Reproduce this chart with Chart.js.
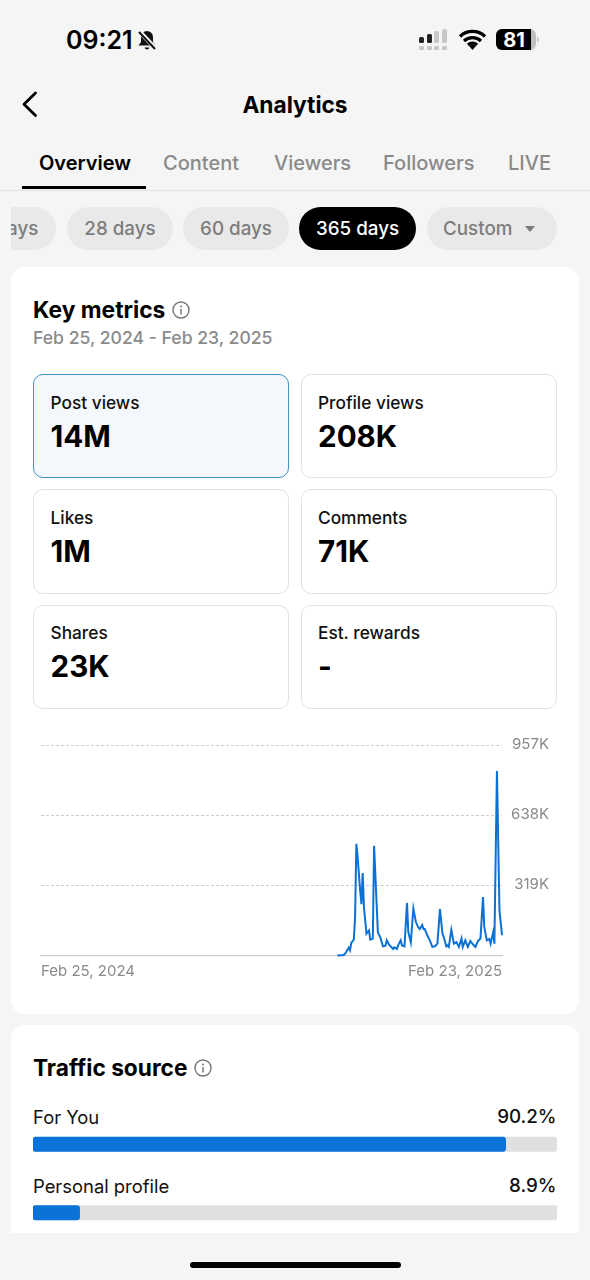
<!DOCTYPE html>
<html><head><meta charset="utf-8">
<script src="https://cdn.jsdelivr.net/npm/chart.js@4"></script>
<style>
html,body{margin:0;padding:0;background:#f5f5f5}
#app{position:relative;width:590px;height:1280px;overflow:hidden;background:#f5f5f5;font-family:Inter,"Noto Sans",sans-serif;-webkit-font-smoothing:antialiased}
.t{position:absolute;white-space:nowrap;line-height:30px;height:30px}
.b{position:absolute;box-sizing:border-box}
svg{position:absolute;overflow:visible}
</style></head><body>
<div id="app">
  <div class="b" style="left:11px;top:267px;width:568px;height:747px;background:#fff;border-radius:14px"></div>
  <div class="b" style="left:11px;top:1025px;width:568px;height:208px;background:#fff;border-radius:14px 14px 0 0"></div>

  <div class="t" style="left:66px;top:25px;font-size:25px;font-weight:600;color:#000">09:21</div>
  <svg style="left:135px;top:28px" width="24" height="24" viewBox="0 0 24 24"><path d="M12 3a6 6 0 0 0-6 6v5l-2.5 3.5h17L18 14V9a6 6 0 0 0-6-6zM9.5 19.5a2.6 2.6 0 0 0 5 0z" fill="#111"/><path d="M4 3l17 18" stroke="#f5f5f5" stroke-width="4.5"/><path d="M4 4l16 17" stroke="#111" stroke-width="2"/></svg>
  <svg style="left:418px;top:28px" width="32" height="24" viewBox="0 0 32 24">
    <rect x="1" y="9" width="5" height="6" rx="1.5" fill="#222"/><rect x="9" y="6" width="5" height="9" rx="1.5" fill="#222"/><rect x="16" y="3" width="5" height="12" rx="1.5" fill="#c8c8c8"/><rect x="24" y="1" width="5" height="14" rx="1.5" fill="#c8c8c8"/>
    <rect x="1" y="18" width="5" height="4" rx="1" fill="#c8c8c8"/><rect x="9" y="18" width="5" height="4" rx="1" fill="#c8c8c8"/><rect x="16" y="18" width="5" height="4" rx="1" fill="#c8c8c8"/><rect x="24" y="18" width="5" height="4" rx="1" fill="#c8c8c8"/></svg>
  <svg style="left:459px;top:29px" width="27" height="21" viewBox="0 0 27 21"><path d="M1 7.5a18 18 0 0 1 25 0M5 12a12.5 12.5 0 0 1 17 0M9 16a6.5 6.5 0 0 1 9 0" fill="none" stroke="#000" stroke-width="3.2"/><path d="M13.5 21l-3.4-4a5 5 0 0 1 6.8 0z" fill="#000"/></svg>
  <svg style="left:495px;top:29px" width="44" height="22" viewBox="0 0 44 22"><rect x="1" y="0" width="40" height="21" rx="6" fill="#c0c0c0"/><path d="M7 0h29v21H7a6 6 0 0 1-6-6V6a6 6 0 0 1 6-6z" fill="#000"/><path d="M42 7.5a3.5 3.5 0 0 1 0 6z" fill="#c0c0c0"/></svg>
  <div class="t" style="left:496px;top:25px;width:36px;text-align:center;font-size:20px;font-weight:700;color:#fff">81</div>

  <svg style="left:20px;top:90px" width="20" height="28" viewBox="0 0 20 28"><path d="M15.5 3L4 14.2 15.5 25.5" fill="none" stroke="#000" stroke-width="2.8" stroke-linecap="round" stroke-linejoin="round"/></svg>
  <div class="t" style="left:0;width:590px;text-align:center;top:89.5px;font-size:22.7px;font-weight:700;color:#000">Analytics</div>

  <div id="tabs"></div>
  <div class="b" style="left:22px;top:186px;width:124px;height:3px;background:#000"></div>
  <div class="b" style="left:0;top:190px;width:590px;height:1px;background:#e2e2e2"></div>

  <div style="position:absolute;left:11px;top:207px;width:546px;height:43px;overflow:hidden">
    <div id="pills"></div>
  </div>

  <div class="t" style="left:33px;top:295px;font-size:22.8px;font-weight:700;color:#000">Key metrics</div>
  <svg style="left:172px;top:301px" width="18" height="18" viewBox="0 0 18 18"><circle cx="9" cy="9" r="8" fill="none" stroke="#777" stroke-width="1.4"/><circle cx="9" cy="5.4" r="1" fill="#777"/><path d="M9 8v5.4" stroke="#777" stroke-width="1.5"/></svg>
  <div class="t" style="left:33px;top:323px;font-size:17.6px;font-weight:500;color:#8a8a8a">Feb 25, 2024 - Feb 23, 2025</div>

  <div id="kpis"></div>

  <div style="position:absolute;left:0;top:730px;width:590px;height:260px"><canvas id="trend"></canvas></div>

  <div class="t" style="left:33px;top:1053px;font-size:22.7px;font-weight:700;color:#000">Traffic source</div>
  <svg style="left:194px;top:1059px" width="18" height="18" viewBox="0 0 18 18"><circle cx="9" cy="9" r="8" fill="none" stroke="#777" stroke-width="1.4"/><circle cx="9" cy="5.4" r="1" fill="#777"/><path d="M9 8v5.4" stroke="#777" stroke-width="1.5"/></svg>
  <div id="traffic"></div>
  <div style="position:absolute;left:33px;top:1110px;width:524px;height:137px;clip-path:inset(0 0 14px 0)"><canvas id="bars"></canvas></div>

  <div class="b" style="left:190px;top:1262px;width:211px;height:6px;border-radius:3px;background:#000"></div>
</div>
<script>
// ---- data ----
const tabNames = ["Overview","Content","Viewers","Followers","LIVE"];
const tabLefts = [39,163,274,383,508];
const pillNames = ["7 days","28 days","60 days","365 days","Custom"];
const kpiLabels = ["Post views","Profile views","Likes","Comments","Shares","Est. rewards"];
const kpiValues = ["14M","208K","1M","71K","23K","-"];
const dayIndex = [234,239,240,241,243,244,245,247,248,249,250,252,253,254,255,257,259,260,262,263,265,266,268,270,272,273,275,278,279,281,282,284,285,287,289,290,292,294,296,298,299,301,302,303,305,307,309,311,313,315,317,318,320,321,322,324,326,328,330,332,333,335,337,339,341,343,345,347,349,350,352,354,355,357,358,360,362,364];
const postViewsK = [0,2,8,16,36,24,57,72,175,508,448,296,233,375,220,99,114,72,77,499,236,105,81,42,45,69,48,30,37,30,46,69,46,42,239,107,60,214,152,127,120,139,120,120,92,69,39,42,54,211,99,84,42,46,39,117,54,61,39,77,39,69,39,66,51,39,66,77,266,130,69,75,54,105,54,839,205,92];
const yTickValues = [0,319,638,957];
const yTickLabels = ["","319K","638K","957K"];
const xTickDays = [0,364];
const xTickLabels = ["Feb 25, 2024","Feb 23, 2025"];
const trafficNames = ["For You","Personal profile"];
const trafficShare = [90.2,8.9];
const trafficTrack = [100,100];

// ---- page text ----
document.getElementById('tabs').innerHTML = tabNames.map((n,i)=>
  `<div class="t" style="left:${tabLefts[i]}px;top:147.5px;font-size:20px;font-weight:${i?500:600};color:${i?'#8a8a8a':'#000'}">${n}</div>`).join('');

const pillBoxes = [[-49,94],[56,106],[172,106],[288,117],[416,130]];
document.getElementById('pills').innerHTML = pillNames.map((n,i)=>{
  const [l,w]=pillBoxes[i]; const on=i===3;
  const extra = i===4 ? `<svg style="left:97px;top:18px" width="12" height="8" viewBox="0 0 12 8"><path d="M1 1h10L6 7z" fill="#7a7a7a"/></svg>` : '';
  const pad = i===4 ? 'padding-left:16px;text-align:left;' : 'text-align:center;';
  return `<div class="b" style="left:${l}px;top:0;width:${w}px;height:43px;border-radius:22px;background:${on?'#000':'#e9e9e9'};color:${on?'#fff':'#7d7d7d'};font-size:18.8px;font-weight:500;line-height:44px;${pad}">${n}${extra}</div>`;
}).join('');

const kpiX=[33,301], kpiY=[374,489,605], kpiH=[104,105,104], kpiPad=[17.5,17];
document.getElementById('kpis').innerHTML = kpiLabels.map((n,i)=>{
  const c=i%2, r=Math.floor(i/2), on=i===0, x=kpiX[c], y=kpiY[r], tx=x+kpiPad[c], ty=r===2?y-1:y;
  return `<div class="b" style="left:${x}px;top:${y}px;width:256px;height:${kpiH[r]}px;border-radius:10px;border:1.2px solid ${on?'#3f92c4':'#e2e2e2'};background:${on?'#f4f7fb':'#fff'}"></div>
  <div class="t" style="left:${tx}px;top:${ty+14}px;font-size:17.3px;font-weight:500;color:#111">${n}</div>
  <div class="t" style="left:${tx}px;top:${ty+46.5}px;font-size:29.6px;font-weight:700;color:#000">${kpiValues[i]}</div>`;
}).join('');

const trafficTextY=[1102,1171];
document.getElementById('traffic').innerHTML = trafficNames.map((n,i)=>
  `<div class="t" style="left:33px;top:${trafficTextY[i]}px;font-size:18.4px;color:#111">${n}</div>
   <div class="t" style="right:33.5px;top:${trafficTextY[i]}px;font-size:18.8px;font-weight:500;color:#111">${trafficShare[i]}%</div>`).join('');

// ---- charts ----
const fontFamily = 'Inter, "Noto Sans", sans-serif';
new Chart(document.getElementById('trend'),{
  type:'line',
  data:{datasets:[{
    data:dayIndex.map((d,i)=>({x:d,y:postViewsK[i]})),
    borderColor:'#0b72d3',borderWidth:2,pointRadius:0,tension:0,fill:false,clip:false
  }]},
  options:{
    responsive:true,maintainAspectRatio:false,animation:false,
    layout:{padding:{left:41,right:41,top:15,bottom:0}},
    plugins:{legend:{display:false},tooltip:{enabled:false}},
    scales:{
      x:{type:'linear',min:xTickDays[0],max:xTickDays[1],
        afterBuildTicks:a=>{a.ticks=xTickDays.map(value=>({value}))},
        afterFit:a=>{a.height=34.5},
        grid:{display:false,drawTicks:false},
        border:{display:true,color:'#cfcfcf',width:1.2},
        ticks:{align:'inner',autoSkip:false,maxRotation:0,padding:7,color:'#8a8a8a',
          font:{family:fontFamily,size:15},
          callback:(v,i)=>xTickLabels[i]}},
      y:{position:'right',min:yTickValues[0],max:yTickValues[3],
        afterBuildTicks:a=>{a.ticks=yTickValues.map(value=>({value}))},
        afterFit:a=>{a.width=47},
        grid:{drawTicks:false,lineWidth:1,color:c=>c.tick&&c.tick.value===0?'rgba(0,0,0,0)':'#cdcdcd'},
        border:{display:false,dash:[3,2]},
        ticks:{crossAlign:'far',padding:0,labelOffset:-1,autoSkip:false,color:'#8a8a8a',
          font:{family:fontFamily,size:15},
          callback:(v,i)=>yTickLabels[i]}}
    }
  }
});

new Chart(document.getElementById('bars'),{
  type:'bar',
  data:{labels:trafficNames,datasets:[
    {data:trafficShare,backgroundColor:'#0b72d9',barThickness:14.5,borderRadius:3,borderSkipped:false,grouped:false,order:1},
    {data:trafficTrack,backgroundColor:'#e0e0e0',barThickness:14.5,borderRadius:3,borderSkipped:false,grouped:false,order:2}
  ]},
  options:{
    indexAxis:'y',responsive:true,maintainAspectRatio:false,animation:false,
    plugins:{legend:{display:false},tooltip:{enabled:false}},
    scales:{x:{display:false,min:0,max:100},y:{display:false}}
  }
});
</script>
</body></html>
